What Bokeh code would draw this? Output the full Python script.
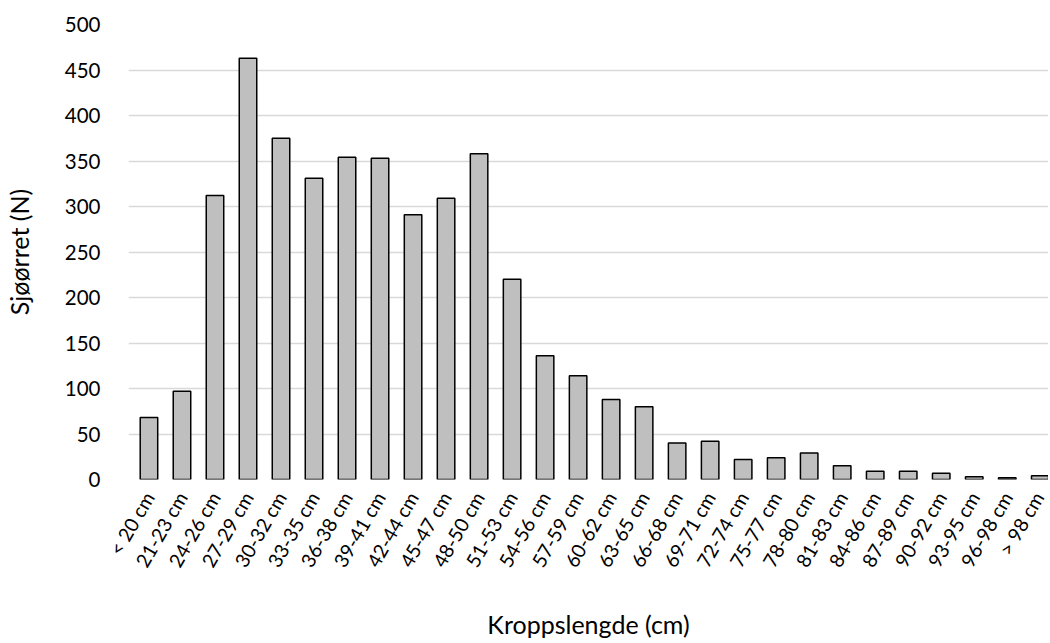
import math
from bokeh.plotting import figure
from bokeh.models import Range1d, FixedTicker, ColumnDataSource
from bokeh.embed import file_html
from bokeh.resources import INLINE

categories = ["< 20 cm", "21-23 cm", "24-26 cm", "27-29 cm", "30-32 cm", "33-35 cm",
              "36-38 cm", "39-41 cm", "42-44 cm", "45-47 cm", "48-50 cm", "51-53 cm",
              "54-56 cm", "57-59 cm", "60-62 cm", "63-65 cm", "66-68 cm", "69-71 cm",
              "72-74 cm", "75-77 cm", "78-80 cm", "81-83 cm", "84-86 cm", "87-89 cm",
              "90-92 cm", "93-95 cm", "96-98 cm", "> 98 cm"]
counts = [68, 97, 312, 463, 375, 331, 354, 353, 291, 309, 358, 220,
          136, 114, 88, 80, 40, 42, 22, 24, 29, 15, 9, 9, 7, 3, 2, 4]
y_ticks = [0, 50, 100, 150, 200, 250, 300, 350, 400, 450, 500]

x_pos = list(range(len(categories)))
src = ColumnDataSource(dict(x=x_pos, top=counts, cat=categories))

FONT = "Lato"

p = figure(frame_width=920, frame_height=455, output_backend="svg", toolbar_location=None,
           x_range=Range1d(-0.62, 27.25), y_range=Range1d(0, 500),
           min_border_left=114, min_border_right=0, min_border_top=24, min_border_bottom=2)
p.outline_line_color = None
p.background_fill_color = "white"
p.border_fill_color = "white"

p.vbar(x="x", top="top", width=0.53, source=src, fill_color="#BFBFBF",
       line_color="black", line_width=1.5)

# axes
p.xaxis.ticker = FixedTicker(ticks=x_pos)
p.xaxis.major_label_overrides = {i: c for i, c in enumerate(categories)}
p.xaxis.major_label_orientation = math.pi / 3
p.xaxis.axis_line_color = None
p.xaxis.major_tick_line_color = None
p.xaxis.minor_tick_line_color = None
p.xaxis.major_label_text_font = FONT
p.xaxis.major_label_text_font_size = "19.5px"
p.xaxis.major_label_text_color = "#000000"
p.xaxis.major_label_standoff = 8
p.xaxis.axis_label = "Kroppslengde (cm)"
p.xaxis.axis_label_text_font = FONT
p.xaxis.axis_label_text_font_size = "25px"
p.xaxis.axis_label_text_font_style = "normal"
p.xaxis.axis_label_text_color = "#000000"
p.xaxis.axis_label_standoff = 29

p.yaxis.ticker = FixedTicker(ticks=y_ticks)
p.yaxis.axis_line_color = None
p.yaxis.major_tick_line_color = None
p.yaxis.minor_tick_line_color = None
p.yaxis.major_label_text_font = FONT
p.yaxis.major_label_text_font_size = "20.5px"
p.yaxis.major_label_text_color = "#000000"
p.yaxis.major_label_standoff = 22
p.yaxis.axis_label = "Sjøørret (N)"
p.yaxis.axis_label_text_font = FONT
p.yaxis.axis_label_text_font_size = "25px"
p.yaxis.axis_label_text_font_style = "normal"
p.yaxis.axis_label_text_color = "#000000"
p.yaxis.axis_label_standoff = 28

p.xgrid.grid_line_color = None
p.ygrid.grid_line_color = "#D9D9D9"
p.ygrid.grid_line_width = 1.5

open("out.html", "w").write(file_html(p, INLINE))
